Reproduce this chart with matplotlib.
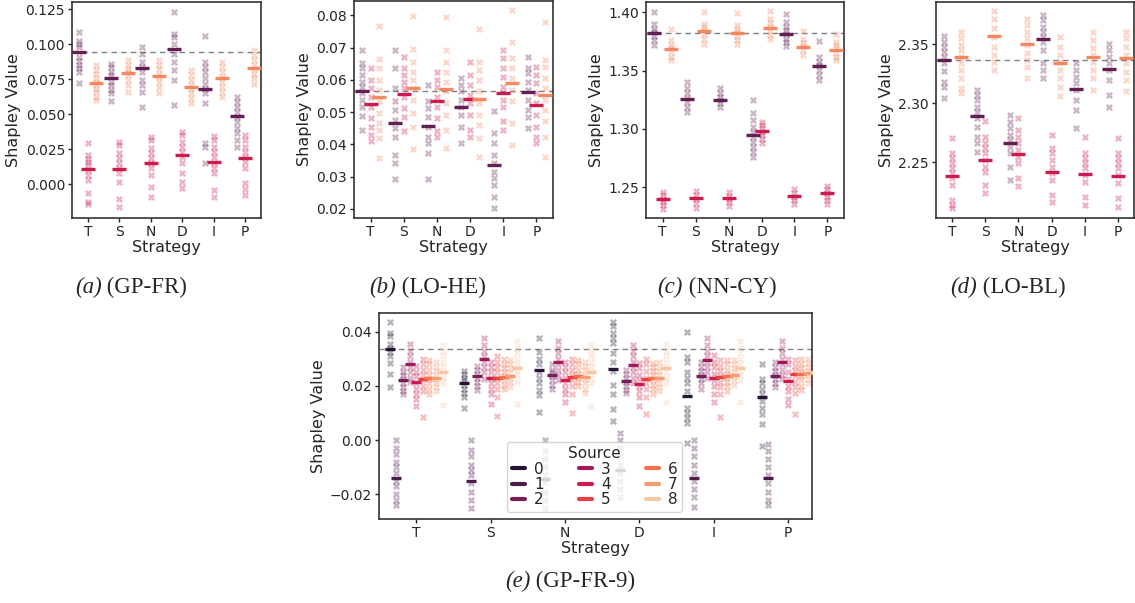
import numpy as np
import seaborn as sns
from matplotlib import pyplot as plt
from matplotlib.lines import Line2D
from matplotlib.ticker import MultipleLocator

strategies = ['T', 'S', 'N', 'D', 'I', 'P']

# (a) GP-FR  -> means[strategy][source], points[strategy][source]
gp_fr_means = [
    [0.0945, 0.0110, 0.0725],
    [0.0760, 0.0105, 0.0797],
    [0.0830, 0.0150, 0.0775],
    [0.0965, 0.0205, 0.0695],
    [0.0680, 0.0160, 0.0755],
    [0.0485, 0.0185, 0.0830],
]
gp_fr_points = [
    [[0.109, 0.102, 0.100, 0.098, 0.091, 0.088, 0.085, 0.083, 0.080, 0.072],
     [0.0295, 0.021, 0.018, 0.016, 0.0135, 0.010, 0.0064, 0.003, -0.0067, -0.0126, -0.0143],
     [0.085, 0.0814, 0.079, 0.0755, 0.073, 0.0707, 0.068, 0.066, 0.0624, 0.060]],
    [[0.086, 0.084, 0.080, 0.078, 0.073, 0.0707, 0.067, 0.0648, 0.0595],
     [0.030, 0.0279, 0.0219, 0.0183, 0.0148, 0.0112, 0.0076, 0.0017, -0.0107, -0.0167],
     [0.0886, 0.085, 0.0826, 0.080, 0.078, 0.0743, 0.0707, 0.066]],
    [[0.098, 0.0933, 0.0874, 0.0838, 0.080, 0.0743, 0.0707, 0.066, 0.0548],
     [0.0338, 0.0314, 0.0255, 0.0219, 0.0183, 0.0148, 0.0112, 0.0064, -0.0019, -0.0095],
     [0.0886, 0.085, 0.0826, 0.079, 0.0767, 0.073, 0.0695, 0.0648]],
    [[0.123, 0.1076, 0.105, 0.1005, 0.0933, 0.0874, 0.0814, 0.0743, 0.0564],
     [0.0374, 0.035, 0.030, 0.0267, 0.0231, 0.0195, 0.0148, 0.0076, 0.0017, -0.0031],
     [0.0814, 0.078, 0.0743, 0.0707, 0.068, 0.0648, 0.0612, 0.0576]],
    [[0.106, 0.0874, 0.0838, 0.080, 0.0755, 0.0719, 0.068, 0.0648, 0.0576, 0.029, 0.0267, 0.0152],
     [0.0343, 0.0314, 0.0267, 0.0231, 0.0195, 0.0148, 0.0112, 0.0076, -0.0043, -0.009],
     [0.0874, 0.0838, 0.080, 0.0767, 0.073, 0.0695, 0.066, 0.0619]],
    [[0.0624, 0.0588, 0.0552, 0.0517, 0.048, 0.0445, 0.0398, 0.0362, 0.0314, 0.0267],
     [0.0352, 0.0314, 0.0267, 0.0231, 0.0195, 0.016, 0.0112, 0.001, -0.0038, -0.0079],
     [0.096, 0.0921, 0.0886, 0.085, 0.0826, 0.079, 0.0755, 0.0719]],
]

# (b) LO-HE
lo_he_means = [
    [0.0566, 0.0525, 0.0548],
    [0.0466, 0.0556, 0.0575],
    [0.0458, 0.0533, 0.0572],
    [0.0517, 0.0540, 0.0542],
    [0.0337, 0.0560, 0.0590],
    [0.0563, 0.0523, 0.0554],
]
lo_he_points = [
    [[0.0693, 0.0651, 0.0636, 0.0615, 0.0594, 0.0579, 0.0558, 0.0538, 0.0517, 0.0489, 0.0445],
     [0.0636, 0.060, 0.0574, 0.0548, 0.0517, 0.0481, 0.0455, 0.0429, 0.0409],
     [0.0767, 0.0664, 0.0636, 0.060, 0.0569, 0.0533, 0.0496, 0.0465, 0.0445, 0.0419, 0.0357]],
    [[0.0693, 0.0636, 0.0574, 0.0533, 0.0507, 0.0476, 0.045, 0.0424, 0.0367, 0.0341, 0.0293],
     [0.0672, 0.0636, 0.0615, 0.0594, 0.0574, 0.0548, 0.0512, 0.0486, 0.044],
     [0.0798, 0.0695, 0.0656, 0.0625, 0.060, 0.0574, 0.0538, 0.0496, 0.0455, 0.0385]],
    [[0.0584, 0.0533, 0.0512, 0.0486, 0.0455, 0.0424, 0.0403, 0.0372, 0.0293],
     [0.0625, 0.060, 0.0579, 0.0548, 0.0517, 0.0481, 0.044, 0.0424],
     [0.0796, 0.0691, 0.0656, 0.0625, 0.0594, 0.0564, 0.0527, 0.0491, 0.0445, 0.0388]],
    [[0.0605, 0.0584, 0.0564, 0.0538, 0.0517, 0.0491, 0.0455, 0.0403],
     [0.0656, 0.0615, 0.0584, 0.0553, 0.0527, 0.0491, 0.0445, 0.0424],
     [0.0757, 0.0656, 0.0631, 0.060, 0.0564, 0.0527, 0.0491, 0.046, 0.0419, 0.0362]],
    [[0.0504, 0.0434, 0.0403, 0.0367, 0.0341, 0.0316, 0.0295, 0.0274, 0.0238, 0.0202],
     [0.0693, 0.0667, 0.0636, 0.061, 0.0579, 0.0538, 0.0517, 0.0471, 0.0443],
     [0.0817, 0.0718, 0.0667, 0.0636, 0.0605, 0.0569, 0.0533, 0.0465, 0.0398]],
    [[0.0672, 0.0636, 0.062, 0.0594, 0.0569, 0.0538, 0.0507, 0.0486, 0.045],
     [0.0641, 0.0615, 0.0589, 0.0558, 0.0527, 0.0491, 0.0455, 0.0424, 0.0403],
     [0.078, 0.0662, 0.0641, 0.0605, 0.0574, 0.0538, 0.0507, 0.0471, 0.0424, 0.0362]],
]

# (c) NN-CY
nn_cy_means = [
    [1.3820, 1.2400, 1.3685],
    [1.3255, 1.2405, 1.3835],
    [1.3245, 1.2405, 1.3820],
    [1.2950, 1.2980, 1.3865],
    [1.3810, 1.2425, 1.3700],
    [1.3535, 1.2445, 1.3680],
]
nn_cy_points = [
    [[1.4003, 1.3903, 1.386, 1.383, 1.380, 1.376, 1.3717],
     [1.246, 1.243, 1.240, 1.2374, 1.2346, 1.231],
     [1.386, 1.376, 1.3717, 1.3689, 1.366, 1.3617, 1.3589]],
    [[1.3403, 1.3346, 1.3303, 1.326, 1.3231, 1.3189, 1.3146],
     [1.2469, 1.243, 1.240, 1.236, 1.2317],
     [1.4003, 1.3903, 1.3874, 1.3846, 1.3817, 1.3774, 1.3731]],
    [[1.3346, 1.3303, 1.3274, 1.3246, 1.3217, 1.3183],
     [1.2454, 1.2423, 1.2397, 1.2369, 1.234],
     [1.3994, 1.3889, 1.386, 1.3831, 1.380, 1.3766, 1.3731]],
    [[1.3246, 1.3131, 1.3074, 1.3017, 1.2974, 1.2931, 1.2889, 1.2846, 1.2803, 1.276],
     [1.306, 1.3031, 1.3003, 1.2974, 1.2946, 1.2909, 1.2874],
     [1.4009, 1.3946, 1.3909, 1.3874, 1.384, 1.3803, 1.3769]],
    [[1.3989, 1.3917, 1.3874, 1.3846, 1.3817, 1.3774, 1.3746, 1.3711],
     [1.248, 1.2446, 1.2417, 1.2389, 1.2351],
     [1.3837, 1.3774, 1.3737, 1.3709, 1.3674, 1.3631]],
    [[1.3751, 1.3617, 1.3574, 1.3546, 1.3503, 1.346, 1.3417],
     [1.2511, 1.248, 1.2451, 1.2417, 1.2389, 1.2354],
     [1.3817, 1.3746, 1.3717, 1.3689, 1.3651, 1.3617, 1.3589]],
]

# (d) LO-BL
lo_bl_means = [
    [2.3365, 2.2385, 2.3390],
    [2.2890, 2.2520, 2.3570],
    [2.2665, 2.2575, 2.3500],
    [2.3545, 2.2420, 2.3345],
    [2.3120, 2.2405, 2.3390],
    [2.3290, 2.2385, 2.3385],
]
lo_bl_points = [
    [[2.3573, 2.3523, 2.348, 2.3438, 2.3395, 2.3339, 2.3277, 2.3184, 2.3136, 2.3042],
     [2.2703, 2.2576, 2.2534, 2.2492, 2.2449, 2.2407, 2.2364, 2.2308, 2.2181, 2.2138, 2.211],
     [2.3607, 2.3551, 2.3494, 2.3452, 2.3395, 2.3339, 2.3282, 2.3212, 2.3127, 2.309]],
    [[2.3113, 2.3071, 2.3028, 2.2972, 2.2929, 2.2873, 2.2802, 2.2718, 2.2661, 2.259],
     [2.2853, 2.2718, 2.2661, 2.2619, 2.2576, 2.252, 2.2463, 2.2421, 2.2308, 2.2243],
     [2.3785, 2.372, 2.3636, 2.3565, 2.348, 2.341, 2.3353, 2.3282]],
    [[2.2901, 2.2845, 2.2788, 2.2732, 2.2689, 2.2633, 2.2576, 2.2463, 2.235],
     [2.2873, 2.2774, 2.2718, 2.2661, 2.2605, 2.2548, 2.2492, 2.2364, 2.2302],
     [2.372, 2.3664, 2.3607, 2.3551, 2.3494, 2.3424, 2.3367, 2.3311, 2.3212]],
    [[2.3749, 2.3706, 2.365, 2.3607, 2.3565, 2.3523, 2.3452, 2.3339, 2.3282, 2.3212],
     [2.2732, 2.2619, 2.2576, 2.252, 2.2463, 2.2407, 2.235, 2.2223, 2.2167],
     [2.3565, 2.348, 2.341, 2.3353, 2.3282, 2.3212, 2.3136, 2.3062]],
    [[2.3339, 2.3282, 2.3226, 2.3169, 2.3113, 2.3028, 2.2944, 2.2794],
     [2.2718, 2.2576, 2.2534, 2.2492, 2.2449, 2.2393, 2.2336, 2.2209, 2.2138],
     [2.3607, 2.3537, 2.3466, 2.341, 2.3353, 2.3282, 2.3212, 2.3113]],
    [[2.3508, 2.3452, 2.3395, 2.3339, 2.3282, 2.3198, 2.3071, 2.2966],
     [2.2703, 2.2576, 2.2534, 2.2492, 2.2449, 2.2393, 2.2322, 2.2195, 2.2124],
     [2.3607, 2.3551, 2.348, 2.341, 2.3339, 2.3268, 2.3198, 2.3107]],
]

# (e) GP-FR-9, nine sources
gp_fr9_means = [
    [0.0336, -0.0139, 0.0220, 0.0280, 0.0213, 0.0225, 0.0228, 0.0228, 0.0252],
    [0.0211, -0.0150, 0.0236, 0.0300, 0.0228, 0.0230, 0.0234, 0.0236, 0.0265],
    [0.0257, -0.0145, 0.0240, 0.0289, 0.0223, 0.0234, 0.0238, 0.0234, 0.0252],
    [0.0261, -0.0110, 0.0218, 0.0277, 0.0206, 0.0225, 0.0228, 0.0228, 0.0265],
    [0.0161, -0.0139, 0.0238, 0.0295, 0.0228, 0.0234, 0.0238, 0.0240, 0.0267],
    [0.0158, -0.0140, 0.0238, 0.0289, 0.0217, 0.0243, 0.0243, 0.0246, 0.0252],
]
gp_fr9_points = [
    [[0.0435, 0.0395, 0.0385, 0.0355, 0.034, 0.0325, 0.031, 0.0285, 0.0245, 0.0195],
     [0.000, -0.003, -0.005, -0.008, -0.010, -0.012, -0.015, -0.017, -0.020, -0.022, -0.024],
     [0.027, 0.025, 0.024, 0.0225, 0.021, 0.0195, 0.018, 0.017],
     [0.0355, 0.033, 0.031, 0.029, 0.027, 0.025, 0.023, 0.0215],
     [0.0275, 0.025, 0.0235, 0.021, 0.019, 0.017, 0.015, 0.0125],
     [0.030, 0.028, 0.026, 0.024, 0.022, 0.020, 0.018, 0.0085],
     [0.0295, 0.028, 0.026, 0.024, 0.0225, 0.021, 0.019, 0.017],
     [0.029, 0.027, 0.0255, 0.024, 0.022, 0.021, 0.0195, 0.018],
     [0.035, 0.033, 0.031, 0.029, 0.027, 0.025, 0.023, 0.021, 0.013]],
    [[0.0255, 0.0245, 0.023, 0.022, 0.0205, 0.019, 0.0175, 0.016, 0.012],
     [0.000, -0.0035, -0.006, -0.009, -0.011, -0.013, -0.016, -0.019, -0.022, -0.025],
     [0.0275, 0.026, 0.0245, 0.023, 0.0215, 0.020, 0.0185],
     [0.0375, 0.035, 0.033, 0.031, 0.029, 0.027, 0.025, 0.0225],
     [0.029, 0.027, 0.025, 0.023, 0.021, 0.019, 0.017, 0.0135],
     [0.031, 0.029, 0.027, 0.025, 0.023, 0.021, 0.019, 0.016, 0.009],
     [0.030, 0.028, 0.0265, 0.025, 0.0235, 0.022, 0.0205, 0.019],
     [0.0295, 0.028, 0.0265, 0.025, 0.023, 0.0215, 0.0195],
     [0.0365, 0.034, 0.032, 0.030, 0.028, 0.026, 0.024, 0.0215, 0.0135]],
    [[0.0375, 0.0325, 0.030, 0.028, 0.025, 0.023, 0.021, 0.0185, 0.0165, 0.0105],
     [0.000, -0.004, -0.007, -0.010, -0.013, -0.016, -0.019, -0.022, -0.025],
     [0.028, 0.026, 0.025, 0.0235, 0.022, 0.0205, 0.019],
     [0.0365, 0.034, 0.032, 0.030, 0.028, 0.026, 0.024, 0.022],
     [0.029, 0.027, 0.025, 0.023, 0.021, 0.019, 0.017, 0.014],
     [0.030, 0.028, 0.026, 0.024, 0.022, 0.020, 0.017, 0.010],
     [0.0295, 0.028, 0.026, 0.0245, 0.023, 0.0215, 0.020],
     [0.029, 0.0275, 0.026, 0.024, 0.0225, 0.021, 0.019, 0.0175],
     [0.035, 0.033, 0.031, 0.029, 0.027, 0.025, 0.023, 0.021, 0.0125]],
    [[0.0435, 0.042, 0.0395, 0.0375, 0.036, 0.032, 0.029, 0.0255, 0.0205, 0.017, 0.0115, 0.007],
     [0.0025, 0.000, -0.003, -0.006, -0.009, -0.012, -0.015, -0.018, -0.021],
     [0.026, 0.0245, 0.023, 0.0215, 0.020, 0.0185, 0.0175],
     [0.035, 0.033, 0.031, 0.029, 0.027, 0.025, 0.023, 0.021],
     [0.0285, 0.0265, 0.024, 0.022, 0.020, 0.018, 0.016, 0.0125],
     [0.030, 0.028, 0.0255, 0.023, 0.021, 0.019, 0.016, 0.0095],
     [0.0285, 0.027, 0.0255, 0.024, 0.022, 0.0205, 0.019, 0.017],
     [0.029, 0.027, 0.0255, 0.024, 0.0225, 0.021, 0.0195, 0.018],
     [0.0355, 0.033, 0.031, 0.029, 0.027, 0.025, 0.023, 0.021, 0.014]],
    [[0.040, 0.0305, 0.029, 0.025, 0.023, 0.021, 0.018, 0.012, 0.010, 0.008, 0.0065, -0.001],
     [0.000, -0.003, -0.006, -0.009, -0.012, -0.015, -0.018, -0.021, -0.0245],
     [0.029, 0.027, 0.0255, 0.024, 0.0225, 0.021, 0.019],
     [0.0375, 0.035, 0.033, 0.031, 0.029, 0.027, 0.025, 0.023],
     [0.0315, 0.029, 0.027, 0.0245, 0.022, 0.020, 0.017, 0.014],
     [0.0295, 0.0275, 0.0255, 0.0235, 0.0215, 0.0195, 0.017, 0.0085],
     [0.0295, 0.028, 0.026, 0.0245, 0.023, 0.0215, 0.020, 0.018],
     [0.0295, 0.028, 0.0265, 0.025, 0.0235, 0.022, 0.0205],
     [0.0365, 0.034, 0.032, 0.030, 0.028, 0.026, 0.024, 0.022, 0.014]],
    [[0.028, 0.0225, 0.021, 0.019, 0.017, 0.0145, 0.012, 0.0095, 0.006, -0.002],
     [-0.0015, -0.004, -0.007, -0.010, -0.013, -0.016, -0.019, -0.022, -0.024],
     [0.029, 0.027, 0.0255, 0.024, 0.0225, 0.021, 0.0195],
     [0.0365, 0.034, 0.032, 0.030, 0.028, 0.026, 0.024, 0.0225],
     [0.030, 0.028, 0.025, 0.0225, 0.020, 0.018, 0.015, 0.013],
     [0.0295, 0.0275, 0.0255, 0.0235, 0.0215, 0.0195, 0.0175, 0.0095],
     [0.030, 0.028, 0.0265, 0.025, 0.0235, 0.022, 0.020, 0.0185],
     [0.030, 0.0285, 0.027, 0.0255, 0.024, 0.0225, 0.021],
     [0.036, 0.034, 0.032, 0.030, 0.028, 0.026, 0.024, 0.022, 0.014]],
]

W, H = 1135, 603

sns.set_style('ticks')
plt.rcParams['font.family'] = ['DejaVu Sans']
plt.rcParams['axes.edgecolor'] = '0.2'
plt.rcParams['text.color'] = '0.15'
plt.rcParams['axes.labelcolor'] = '0.15'
plt.rcParams['xtick.color'] = '0.15'
plt.rcParams['ytick.color'] = '0.15'

fig = plt.figure(figsize=(W / 100, H / 100), dpi=100)


def px_axes(left, top, right, bottom):
    return fig.add_axes([left / W, 1 - bottom / H, (right - left) / W, (bottom - top) / H])


def draw_panel(ax, means, points, colors, bar_ms, xlim, ylim, step):
    n_src = len(colors)
    w = 0.8 / n_src
    offsets = -0.4 + w / 2 + w * np.arange(n_src)
    ax.axhline(means[0][0], color='0.5', lw=1.0, ls=(0, (4, 3)), zorder=0.5)
    for i in range(len(strategies)):
        for j in range(n_src):
            x = i + offsets[j]
            ys = points[i][j]
            ax.scatter(np.full(len(ys), x), ys, marker='X', s=26, color=colors[j],
                       alpha=0.33, linewidths=0, zorder=2)
            ax.plot([x], [means[i][j]], marker='_', ms=bar_ms, mew=2.4,
                    color=colors[j], zorder=3)
    ax.set_xticks(range(len(strategies)))
    ax.set_xticklabels(strategies)
    ax.set_xlim(*xlim)
    ax.set_ylim(*ylim)
    ax.yaxis.set_major_locator(MultipleLocator(step))
    ax.set_xlabel('Strategy', fontsize=11.5, labelpad=1)
    ax.set_ylabel('Shapley Value', fontsize=11.5, labelpad=3)
    ax.tick_params(labelsize=10, length=3, width=1, pad=2)
    for sp in ax.spines.values():
        sp.set_linewidth(1.2)


def caption(xc, y, tag, name):
    r = fig.canvas.get_renderer()
    yf = 1 - y / H
    t1 = fig.text(0, yf, tag, family='Liberation Serif', style='italic', fontsize=16.5,
                  va='center')
    t2 = fig.text(0, yf, ' ' + name, family='Liberation Serif', fontsize=16.5, va='center')
    w1 = t1.get_window_extent(r).width
    w2 = t2.get_window_extent(r).width
    x0 = xc - (w1 + w2) / 2
    t1.set_x(x0 / W)
    t2.set_x((x0 + w1) / W)


pal3 = sns.color_palette('rocket', 3)
pal9 = sns.color_palette('rocket', 9)

ax_a = px_axes(72, 2, 261, 218)
draw_panel(ax_a, gp_fr_means, gp_fr_points, pal3, 10, (-0.5, 5.5), (-0.0243, 0.1302), 0.025)
ax_b = px_axes(354, 1, 553, 218)
draw_panel(ax_b, lo_he_means, lo_he_points, pal3, 10, (-0.5, 5.5), (0.0172, 0.0844), 0.01)
ax_c = px_axes(646, 2, 844, 218)
draw_panel(ax_c, nn_cy_means, nn_cy_points, pal3, 10, (-0.5, 5.5), (1.2234, 1.4088), 0.05)
ax_d = px_axes(936, 2, 1134, 218)
draw_panel(ax_d, lo_bl_means, lo_bl_points, pal3, 10, (-0.5, 5.5), (2.2028, 2.386), 0.05)
ax_e = px_axes(379, 313, 812, 519)
draw_panel(ax_e, gp_fr9_means, gp_fr9_points, pal9, 6.7, (-0.5, 5.32), (-0.0291, 0.0469), 0.02)

handles = [Line2D([], [], color=c, lw=3) for c in pal9]
ax_e.legend(handles, [str(k) for k in range(9)], title='Source', ncol=3, fontsize=11,
            title_fontsize=11, loc='lower left', bbox_to_anchor=(0.296, 0.034),
            borderaxespad=0, handlelength=0.85, labelspacing=0.02, columnspacing=2.3,
            borderpad=0.3, handletextpad=0.6, framealpha=0.8)

caption(131, 287, '(a)', '(GP-FR)')
caption(428, 287, '(b)', '(LO-HE)')
caption(717, 287, '(c)', '(NN-CY)')
caption(1008, 287, '(d)', '(LO-BL)')
caption(570, 581, '(e)', '(GP-FR-9)')

fig.savefig('out.png', dpi=100)
